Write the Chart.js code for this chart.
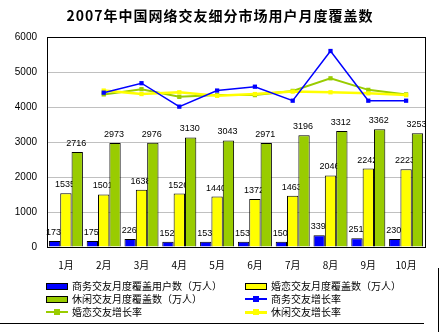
<!DOCTYPE html>
<html>
<head>
<meta charset="utf-8">
<script src="https://cdn.jsdelivr.net/npm/chart.js@4/dist/chart.umd.min.js"></script>
<style>
  body { margin: 0; background: #fff; }
  #wrap { position: relative; width: 440px; height: 332px; overflow: hidden; }
  #chart { position: absolute; left: 0; top: 0; }
  #title {
    position: absolute; left: 0; top: 5px; width: 440px; text-align: center;
    font: bold 14px "Noto Sans CJK SC", sans-serif; letter-spacing: 1px; color: #000;
  }
  .lg { position: absolute; font: 10px "Noto Sans CJK SC", sans-serif; color: #000; white-space: nowrap; line-height: 12px; }
  .sw { position: absolute; width: 20px; height: 5px; border: 1px solid #000; }
  .ln { position: absolute; width: 22px; }
  .ln i { position: absolute; left: 8px; width: 6px; height: 6px; }
</style>
</head>
<body>
<div id="wrap">
  <canvas id="chart" width="440" height="332"></canvas>
  <div id="title">2007年中国网络交友细分市场用户月度覆盖数</div>
  <div id="legend"></div>
</div>
<script>
const months = ['1月', '2月', '3月', '4月', '5月', '6月', '7月', '8月', '9月', '10月'];

// monthly coverage, 10k users
const bizUsers = [173, 175, 226, 152, 153, 153, 150, 339, 251, 230];
const datingUsers = [1535, 1501, 1638, 1526, 1440, 1372, 1463, 2046, 2242, 2223];
const leisureUsers = [2716, 2973, 2976, 3130, 3043, 2971, 3196, 3312, 3362, 3253];

// month-on-month growth, % (no value for January)
const bizGrowth = [null, 6, 33, -34, 12, 23, -17, 125, -17, -17];
const datingGrowth = [null, 1, 16, -6, -1, -1, 11, 47, 14, 1];
const leisureGrowth = [null, 12, 2, 7, -3, 2, 9, 7, 4, -1];

const yTicks = [0, 1000, 2000, 3000, 4000, 5000, 6000];

const BLUE = '#0000ff', YELLOW = '#ffff00', GREEN = '#99cc00';

// value labels go under the bars so neighbouring bars can cover them
const barLabels = {
  id: 'barLabels',
  beforeDatasetsDraw(chart) {
    const ctx = chart.ctx;
    ctx.save();
    ctx.font = '9px "Liberation Sans", Arial, sans-serif';
    ctx.fillStyle = '#000';
    ctx.textAlign = 'center';
    ctx.textBaseline = 'bottom';
    chart.data.datasets.forEach((ds, i) => {
      if (ds.type !== 'bar') return;
      chart.getDatasetMeta(i).data.forEach((bar, j) => {
        ctx.fillText(String(ds.data[j]), bar.x - 1, bar.y - 4);
      });
    });
    ctx.restore();
  }
};

// plot frame plus the outer frame edges
const frame = {
  id: 'frame',
  afterDraw(chart) {
    const { ctx, chartArea: a } = chart;
    ctx.save();
    ctx.strokeStyle = '#000';
    ctx.lineWidth = 1;
    ctx.strokeRect(Math.round(a.left) + 0.5, Math.round(a.top) + 0.5,
      Math.round(a.right - a.left), Math.round(a.bottom - a.top));
    ctx.beginPath();
    ctx.moveTo(0, 323.5); ctx.lineTo(424, 323.5);
    ctx.moveTo(438.5, 268); ctx.lineTo(438.5, 332);
    ctx.stroke();
    ctx.restore();
  }
};

const barDs = (label, data, color) => ({
  type: 'bar', label, data, backgroundColor: color, borderColor: '#000',
  borderWidth: 1, yAxisID: 'y', order: 10, categoryPercentage: 0.9, barPercentage: 1
});
const lineDs = (label, data, color, width, order) => ({
  type: 'line', label, data, borderColor: color, backgroundColor: color,
  borderWidth: width, pointStyle: 'rect', pointRadius: 3, pointBorderWidth: 0,
  yAxisID: 'y1', order, tension: 0, spanGaps: false
});

const chart = new Chart(document.getElementById('chart'), {
  data: {
    labels: months,
    datasets: [
      barDs('商务交友月度覆盖用户数（万人）', bizUsers, BLUE),
      barDs('婚恋交友月度覆盖数（万人）', datingUsers, YELLOW),
      barDs('休闲交友月度覆盖数（万人）', leisureUsers, GREEN),
      lineDs('商务交友增长率', bizGrowth, BLUE, 1.5, 1),
      lineDs('婚恋交友增长率', datingGrowth, GREEN, 2, 3),
      lineDs('休闲交友增长率', leisureGrowth, YELLOW, 2.5, 2)
    ]
  },
  options: {
    responsive: false,
    animation: false,
    layout: { padding: { top: 37, right: 15, bottom: 60, left: 0 } },
    plugins: { legend: { display: false }, title: { display: false }, tooltip: { enabled: false } },
    scales: {
      x: {
        afterFit(s) { s.height = 25; },
        grid: { display: false, drawTicks: false },
        border: { display: true, color: '#000' },
        ticks: { color: '#000', padding: 12, font: { size: 10, family: '"Noto Sans CJK SC", sans-serif' } }
      },
      y: {
        min: 0, max: 6000,
        afterFit(s) { s.width = 47; },
        afterBuildTicks(s) { s.ticks = yTicks.map(v => ({ value: v })); },
        grid: { color: '#c0c0c0', drawTicks: false },
        border: { display: true, color: '#000' },
        ticks: {
          color: '#000', padding: 10, font: { size: 10, family: '"Liberation Sans", Arial, sans-serif' },
          callback: v => String(v)
        }
      },
      y1: { display: false, min: -435, max: 165 }
    }
  },
  plugins: [barLabels, frame]
});

// two-column legend built from the chart's datasets
const pos = [[46, 280], [245, 280], [46, 293], [245, 293], [46, 306], [245, 306]];
const legend = document.getElementById('legend');
chart.data.datasets.forEach((ds, i) => {
  const [x, y] = pos[i];
  let mark;
  if (ds.type === 'bar') {
    mark = `<div class="sw" style="left:${x}px;top:${y + 3}px;background:${ds.backgroundColor}"></div>`;
  } else {
    mark = `<div class="ln" style="left:${x}px;top:${y + 5}px;height:${ds.borderWidth}px;background:${ds.borderColor}">` +
      `<i style="top:${-3 + ds.borderWidth / 2}px;background:${ds.borderColor}"></i></div>`;
  }
  legend.insertAdjacentHTML('beforeend',
    mark + `<div class="lg" style="left:${x + 26}px;top:${y}px">${ds.label}</div>`);
});
</script>
</body>
</html>
